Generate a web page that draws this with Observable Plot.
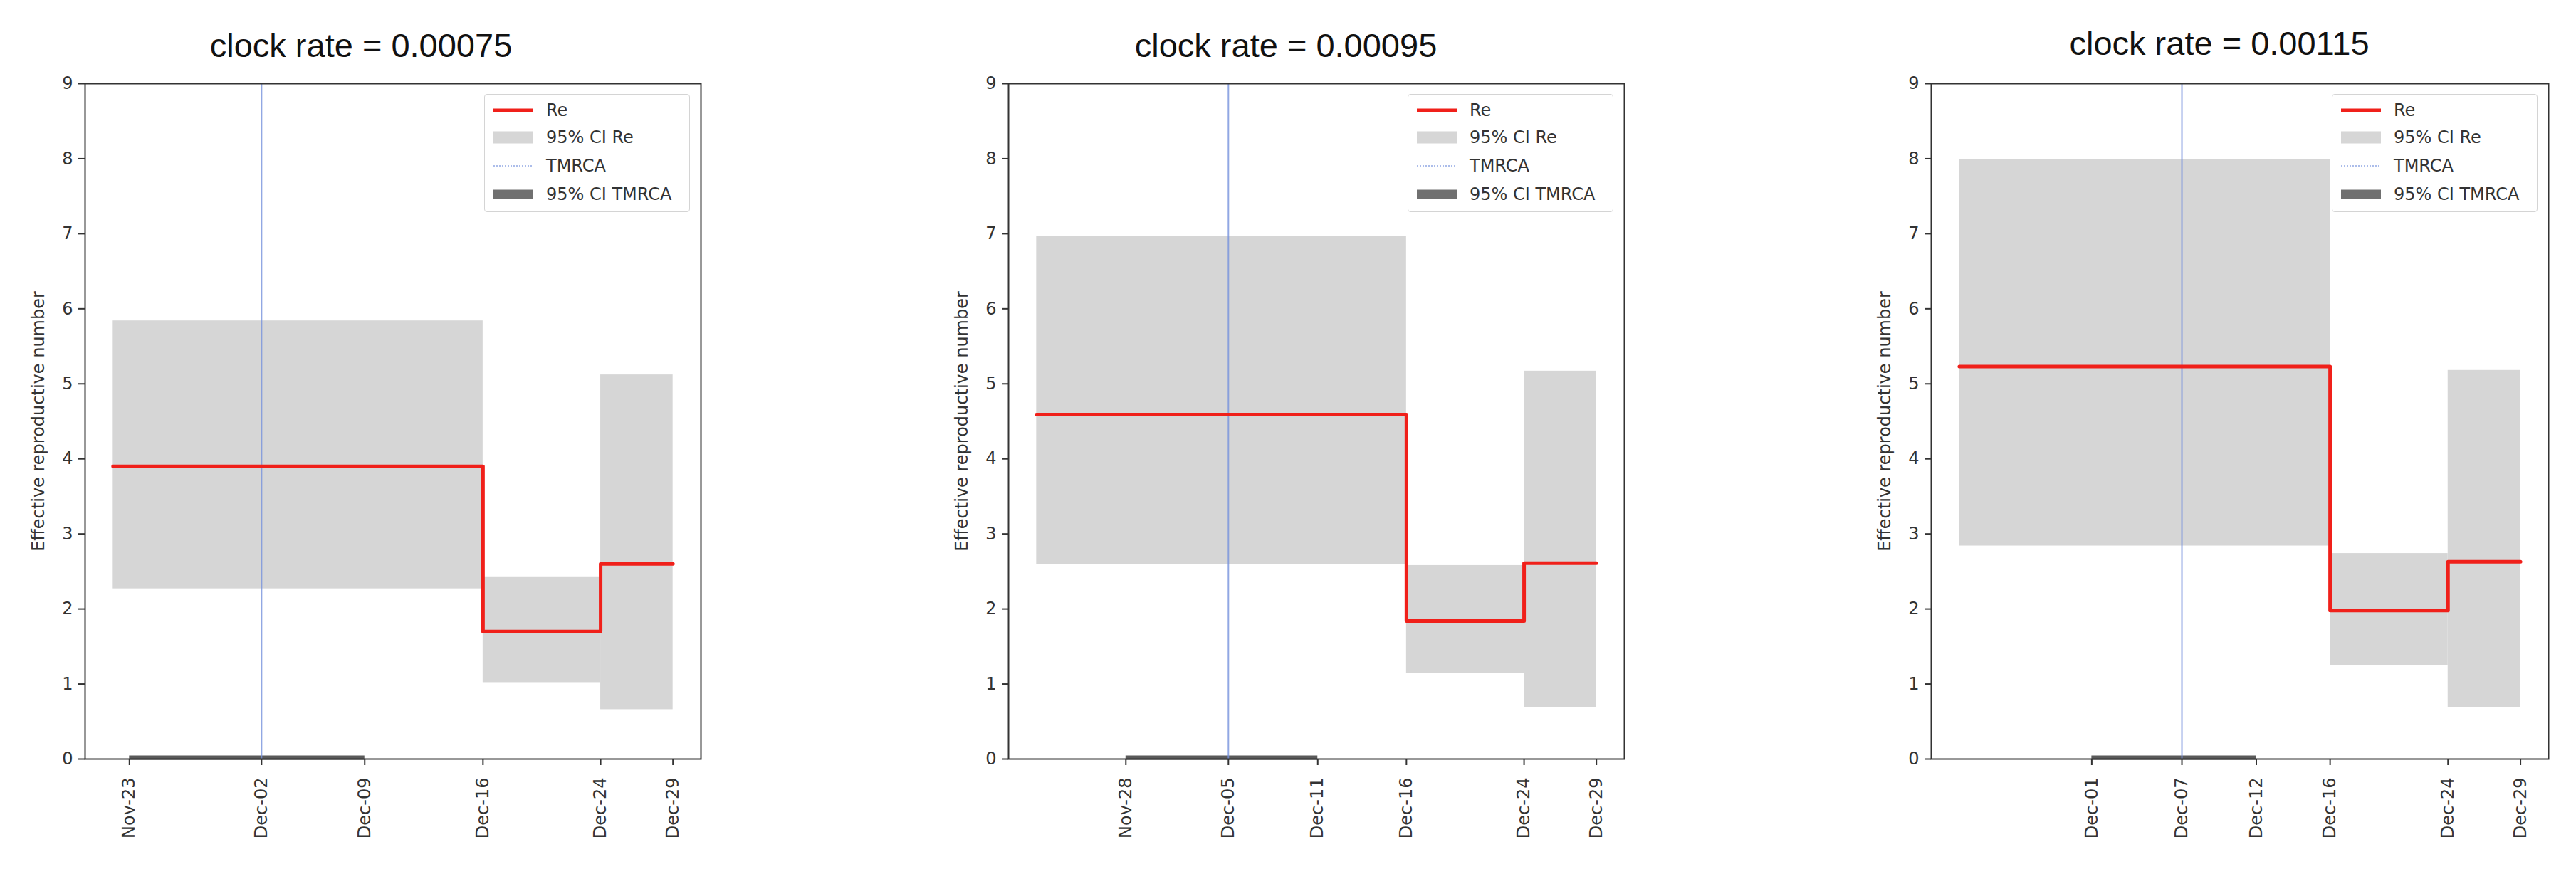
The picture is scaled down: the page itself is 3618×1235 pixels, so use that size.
<!DOCTYPE html>
<html>
<head>
<meta charset="utf-8">
<script src="https://cdn.jsdelivr.net/npm/d3@7"></script>
<script src="https://cdn.jsdelivr.net/npm/@observablehq/plot@0.6"></script>
<style>
  body { margin: 0; background: #fff; }
  #root { position: relative; width: 3618px; height: 1235px; overflow: hidden; background: #fff; font-family: "DejaVu Sans", sans-serif; }
  .panel { position: absolute; top: 0; }
  .title { position: absolute; font-family: "Liberation Sans", Arial, sans-serif; font-size: 47px; line-height: 1; color: #111; white-space: nowrap; transform: translateX(-50%); }
  .legend { position: absolute; width: 289px; height: 166px; box-sizing: border-box; border: 1.5px solid #d4d4d4; border-radius: 4px; background: rgba(255,255,255,0.85); }
  .legend .row { position: absolute; left: 0; height: 28px; width: 100%; }
  .legend svg { position: absolute; left: 12px; top: 2px; }
  .legend span { position: absolute; left: 86px; top: 0; font-size: 24px; line-height: 28px; color: #333; white-space: nowrap; font-family: "DejaVu Sans", sans-serif; }
</style>
</head>
<body>
<div id="root"></div>
<script>
// ---------------- data ----------------
const clockRates = ["0.00075", "0.00095", "0.00115"];
// Re interval boundaries (origin, change point 1, change point 2) and last sample
const intervalStarts = ["2019-11-22T10:00:00Z", "2019-12-16T22:00:00Z", "2019-12-24T17:00:00Z"];
const lastSample = "2019-12-29T12:00:00Z";
// Re per interval, one row per clock rate
const reMedian = [[3.90, 1.70, 2.60], [4.59, 1.84, 2.61], [5.23, 1.98, 2.63]];
const reLower  = [[2.27, 1.02, 0.66], [2.59, 1.14, 0.69], [2.84, 1.25, 0.69]];
const reUpper  = [[5.84, 2.43, 5.12], [6.97, 2.58, 5.17], [7.99, 2.74, 5.18]];
// TMRCA (median and 95% CI), one per clock rate
const tmrcaLower  = ["2019-11-23T12:00:00Z", "2019-11-28T08:00:00Z", "2019-12-01T04:00:00Z"];
const tmrcaMedian = ["2019-12-02T06:00:00Z", "2019-12-05T03:00:00Z", "2019-12-07T03:00:00Z"];
const tmrcaUpper  = ["2019-12-09T02:00:00Z", "2019-12-11T01:00:00Z", "2019-12-12T01:00:00Z"];
const yTicks = [0, 1, 2, 3, 4, 5, 6, 7, 8, 9];
const legendLabels = ["Re", "95% CI Re", "TMRCA", "95% CI TMRCA"];

// ---------------- layout ----------------
const svgLeft = [0, 1250, 2550];
const svgRight = [1250, 2550, 3618];
const frameLeft = [119, 1416, 2712];
const frameRight = [984, 2281, 3579];
const titleX = [507, 1806, 3117];
const titleTop = [40, 40, 37];
const H = 1235, frameTop = 117, frameBottom = 1066;

const RED = "#f0201a", BAND = "#d6d6d6", BLUE = "#7591dc", DARK = "#5a5a5a";
const root = document.getElementById("root");
const D = s => new Date(s);

clockRates.forEach((rate, i) => {
  const t0 = D(intervalStarts[0]), t1 = D(lastSample);
  const span = t1 - t0;
  const xDomain = [new Date(+t0 - 0.05 * span), new Date(+t1 + 0.05 * span)];

  const bounds = intervalStarts.map(D).concat([t1]);
  const segments = intervalStarts.map((s, j) => ({
    x1: bounds[j], x2: bounds[j + 1], lo: reLower[i][j], hi: reUpper[i][j], re: reMedian[i][j]
  }));
  const steps = segments.map(d => ({x: d.x1, y: d.re})).concat([{x: t1, y: reMedian[i][2]}]);
  const tm = {lo: D(tmrcaLower[i]), med: D(tmrcaMedian[i]), hi: D(tmrcaUpper[i])};
  const xTicks = [tm.lo, tm.med, tm.hi, bounds[1], bounds[2], t1];

  const width = svgRight[i] - svgLeft[i];
  const chart = Plot.plot({
    width, height: H,
    marginTop: frameTop, marginBottom: H - frameBottom,
    marginLeft: frameLeft[i] - svgLeft[i], marginRight: svgRight[i] - frameRight[i],
    style: {fontSize: "24px", fontFamily: "DejaVu Sans", color: "#333", background: "transparent"},
    x: {type: "utc", domain: xDomain},
    y: {domain: [0, 9]},
    marks: [
      Plot.rect(segments, {x1: "x1", x2: "x2", y1: "lo", y2: "hi", fill: BAND}),
      Plot.ruleY([tm], {x1: "lo", x2: "hi", y: () => 0, stroke: DARK, strokeWidth: 6, dy: -2}),
      Plot.ruleX([tm.med], {stroke: BLUE, strokeWidth: 2, strokeOpacity: 0.8}),
      Plot.line(steps, {x: "x", y: "y", curve: "step-after", stroke: RED, strokeWidth: 5}),
      Plot.frame({stroke: "#333", strokeWidth: 2}),
      Plot.axisX({ticks: xTicks, tickFormat: d3.utcFormat("%b-%d"), tickRotate: -90, tickSize: 9, tickPadding: 17, label: null, strokeWidth: 2}),
      Plot.axisY({ticks: yTicks, tickSize: 9, tickPadding: 8, label: "Effective reproductive number", labelAnchor: "center", labelOffset: 75, labelArrow: false, strokeWidth: 2})
    ]
  });
  const wrap = document.createElement("div");
  wrap.className = "panel";
  wrap.style.left = svgLeft[i] + "px";
  wrap.appendChild(chart);
  root.appendChild(wrap);

  const title = document.createElement("div");
  title.className = "title";
  title.style.left = titleX[i] + "px";
  title.style.top = titleTop[i] + "px";
  title.textContent = "clock rate = " + rate;
  root.appendChild(title);

  // legend
  const lg = document.createElement("div");
  lg.className = "legend";
  lg.style.left = (frameRight[i] - 15 - 289) + "px";
  lg.style.top = (frameTop + 15) + "px";
  const swatches = [
    `<line x1="0" x2="56" y1="12" y2="12" stroke="${RED}" stroke-width="5"/>`,
    `<rect x="0" y="3.5" width="56" height="17" fill="${BAND}"/>`,
    `<line x1="0" x2="56" y1="12" y2="12" stroke="${BLUE}" stroke-opacity="0.6" stroke-width="2" stroke-dasharray="2 2"/>`,
    `<rect x="0" y="5.5" width="56" height="13" fill="#707070"/>`
  ];
  const rowCenters = [22, 60, 100, 140];
  legendLabels.forEach((lab, k) => {
    const row = document.createElement("div");
    row.className = "row";
    row.style.top = (rowCenters[k] - 14) + "px";
    row.innerHTML = `<svg width="56" height="24">${swatches[k]}</svg><span>${lab}</span>`;
    lg.appendChild(row);
  });
  root.appendChild(lg);
});
</script>
</body>
</html>
